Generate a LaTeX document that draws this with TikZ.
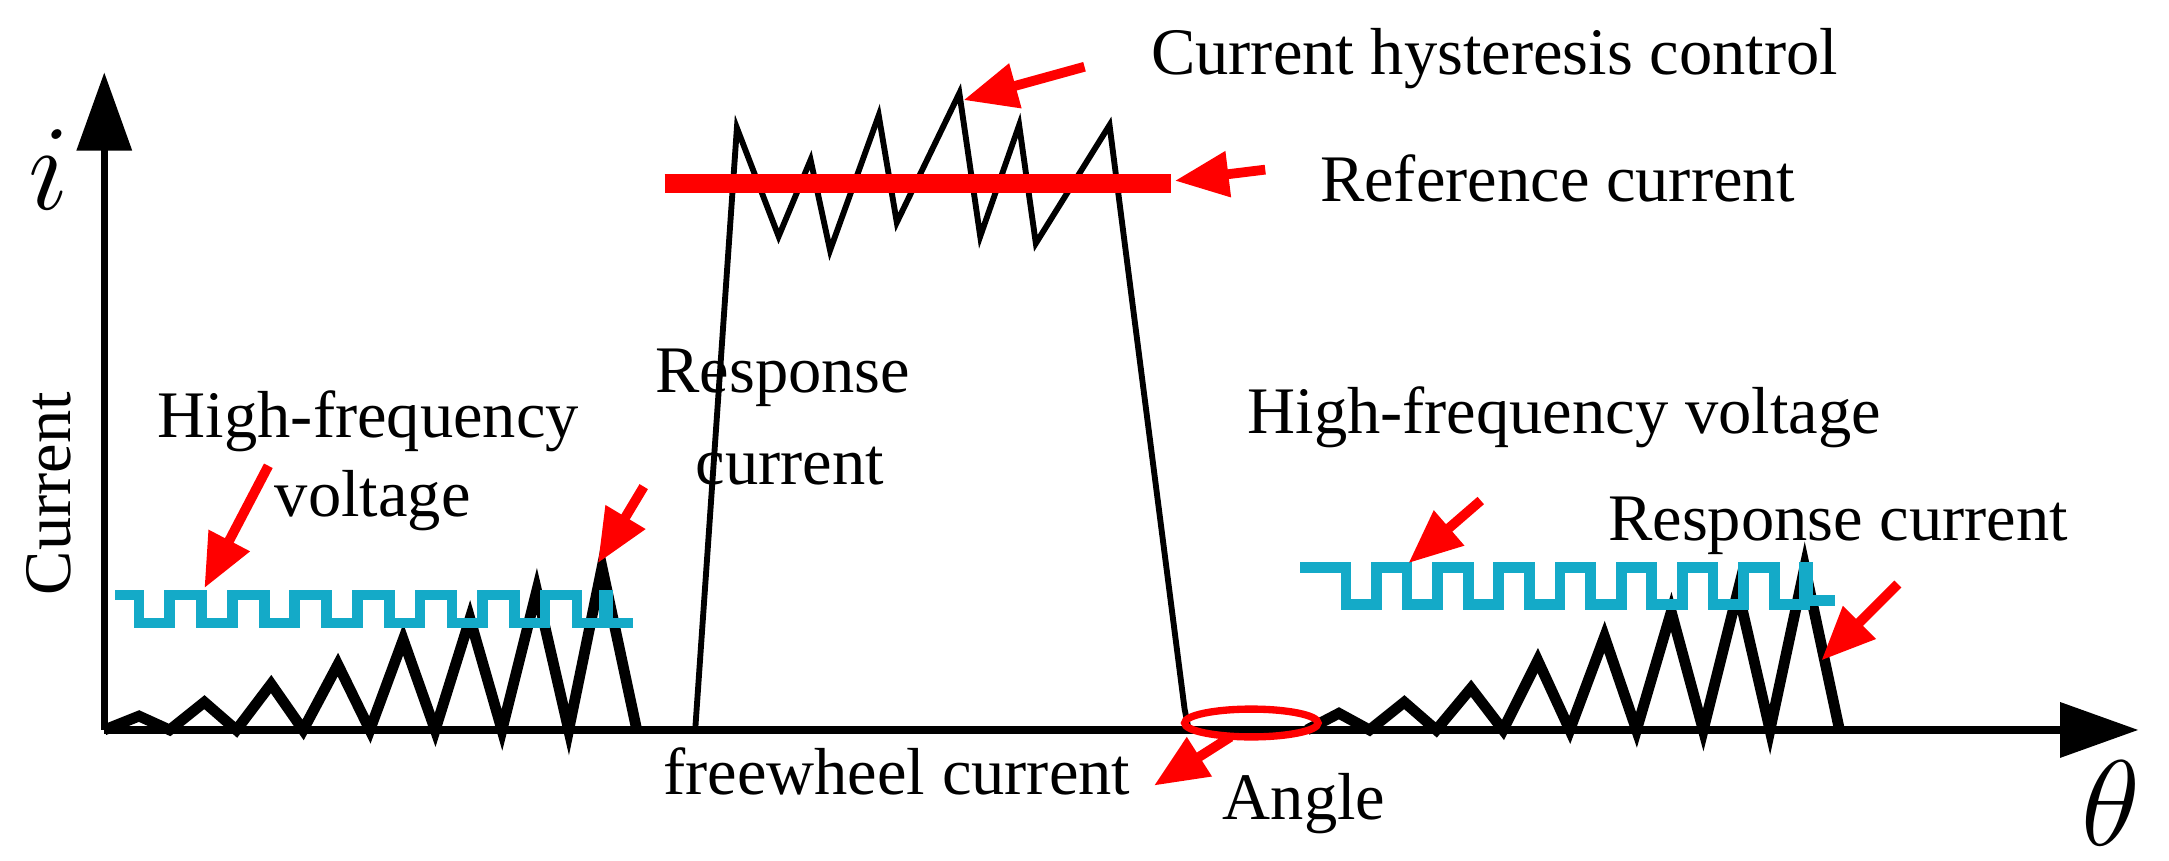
\documentclass[tikz,border=0pt]{standalone}
\usepackage{fontspec}
\setmainfont{Liberation Serif}
\usetikzlibrary{arrows.meta}
\definecolor{cy}{RGB}{20,170,200}
\begin{document}
\begin{tikzpicture}[x=0.01cm,y=-0.01cm,
  lbl/.style={font=\fontsize{13.6}{15}\selectfont,inner sep=0pt},
  rarr/.style={red,line width=2pt,-{Triangle[length=11pt,width=9pt]}},
  zig/.style={black,line width=2.2pt,line join=miter},
  sq/.style={cy,line width=2.2pt}]
\useasboundingbox (0,0) rectangle (1560,618.6);
% axes
\coordinate (o) at (75,525);
\coordinate (ytop) at (75,52);
\coordinate (xend) at (1538,525);
\draw[line width=1.5pt,-{Triangle[length=16pt,width=11pt]}] (o) -- (ytop);
\draw[line width=1.5pt,-{Triangle[length=16pt,width=11pt]}] (o) -- (xend);
\node[font=\fontsize{26}{28}\selectfont] (i) at (35,122) {$i$};
\node[font=\fontsize{26}{28}\selectfont] (th) at (1518,578) {$\theta$};
\node[lbl,rotate=90] (cur) at (35,355) {Current};
% left zigzag
\draw[zig] (75,525)--(100,515)--(122,525)--(147,505)--(170,525)--(195,492)--(218,525)--(243,478)--(266,525)--(290,460)--(313,525)--(338,445)--(361,525)--(386,425)--(409,525)--(433,408)--(458,525);
% left square wave
\draw[sq] (83,428)
 \foreach \k in {0,...,7}{ -- ({100+45*\k},428) -- ({100+45*\k},448) -- ({122+45*\k},448) -- ({122+45*\k},428)} -- (435,428) -- (435,448) -- (455,448);
% central
\draw[black,line width=1.2pt] (500,525)--(530,92)--(560,170)--(583,115)--(597,180)--(632,83)--(645,160)--(690,67)--(705,170)--(733,90)--(745,175)--(798,90)--(852,510)--(855,525);
\coordinate (r1) at (478,132);
\coordinate (r2) at (842,132);
\draw[red,line width=4pt] (r1)--(r2);
% right zigzag
\draw[zig] (940,525)--(963,513)--(985,525)--(1010,505)--(1033,525)--(1058,495)--(1081,525)--(1106,475)--(1129,525)--(1154,458)--(1177,525)--(1202,440)--(1225,525)--(1250,425)--(1273,525)--(1298,408)--(1323,525);
\draw[sq] (935,408)
 \foreach \k in {0,...,7}{ -- ({968+44*\k},408) -- ({968+44*\k},435) -- ({990+44*\k},435) -- ({990+44*\k},408)} -- (1300,408) -- (1300,432) -- (1320,432);
% labels
\node[lbl] (t1) at (1075,42) {Current hysteresis control};
\node[lbl] (t2) at (1120,128) {Reference current};
\node[lbl] (t3) at (265,303) {High-frequency};
\node[lbl] (t4) at (268,360) {voltage};
\node[lbl] (t5) at (563,272) {Response};
\node[lbl] (t6) at (568,335) {current};
\node[lbl] (t7) at (645,555) {freewheel current};
\node[lbl] (t8) at (938,578) {Angle};
\node[lbl] (t9) at (1125,300) {High-frequency voltage};
\node[lbl] (t10) at (1322,378) {Response current};
% ellipse
\draw[red,line width=1.5pt] (900,520) ellipse [x radius=48,y radius=10];
% arrows
\coordinate (a1s) at (780,48); \coordinate (a1e) at (693,72);
\coordinate (a2s) at (910,122); \coordinate (a2e) at (845,130);
\coordinate (a3s) at (193,335); \coordinate (a3e) at (147,423);
\coordinate (a4s) at (463,350); \coordinate (a4e) at (430,405);
\coordinate (a5s) at (885,530); \coordinate (a5e) at (830,565);
\coordinate (a6s) at (1065,360); \coordinate (a6e) at (1013,405);
\coordinate (a7s) at (1365,420); \coordinate (a7e) at (1310,475);
\foreach \a in {1,...,7}{\draw[rarr] (a\a s) -- (a\a e);}
\end{tikzpicture}
\end{document}
